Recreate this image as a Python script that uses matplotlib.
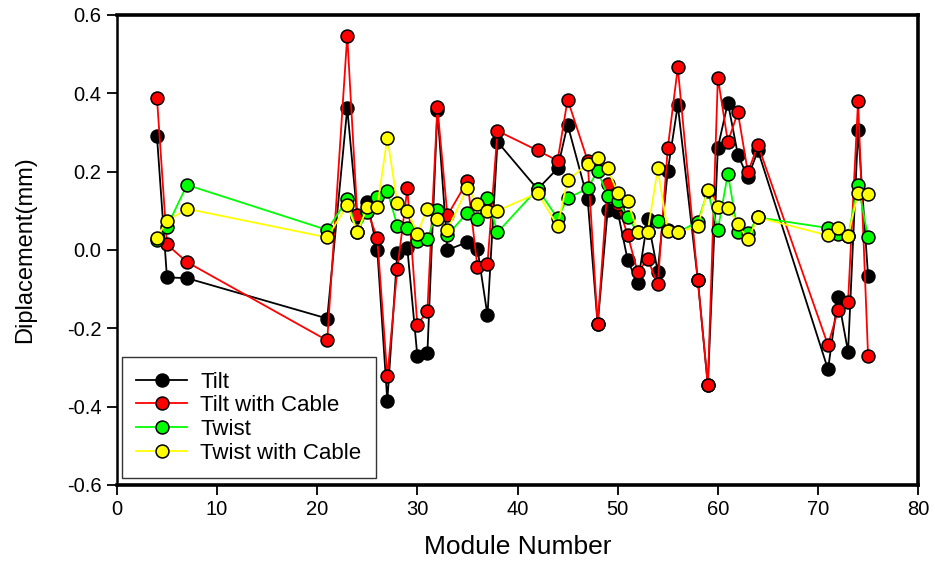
import matplotlib
matplotlib.use("Agg")
import matplotlib.pyplot as plt
from matplotlib.ticker import FormatStrFormatter, MultipleLocator

plt.rcParams["font.family"] = ["Liberation Sans", "DejaVu Sans"]

modules = [4, 5, 7, 21, 23, 24, 25, 26, 27, 28, 29, 30, 31, 32, 33, 35, 36, 37, 38,
           42, 44, 45, 47, 48, 49, 50, 51, 52, 53, 54, 55, 56, 58, 59, 60, 61, 62,
           63, 64, 71, 72, 73, 74, 75]

tilt = [0.291, -0.070, -0.072, -0.175, 0.362, 0.085, 0.123, 0.000, -0.385, -0.007,
        0.004, -0.271, -0.264, 0.358, 0.000, 0.020, 0.003, -0.167, 0.276,
        0.155, 0.208, 0.320, 0.130, -0.190, 0.102, 0.098, -0.026, -0.085, 0.078,
        -0.055, 0.202, 0.370, -0.077, -0.345, 0.261, 0.376, 0.243, 0.185, 0.254,
        -0.305, -0.120, -0.260, 0.306, -0.067]

tilt_cable = [0.389, 0.014, -0.031, -0.231, 0.547, 0.089, 0.100, 0.030, -0.323, -0.049,
              0.157, -0.192, -0.155, 0.364, 0.088, 0.176, -0.044, -0.036, 0.304,
              0.254, 0.228, 0.384, 0.228, -0.190, 0.168, 0.117, 0.038, -0.057, -0.023,
              -0.088, 0.260, 0.466, -0.077, -0.345, 0.440, 0.276, 0.351, 0.198, 0.268,
              -0.243, -0.154, -0.133, 0.381, -0.271]

twist = [0.025, 0.059, 0.166, 0.051, 0.129, 0.045, 0.098, 0.134, 0.151, 0.062,
         0.057, 0.022, 0.027, 0.102, 0.038, 0.095, 0.078, 0.132, 0.045,
         0.156, 0.081, 0.132, 0.157, 0.202, 0.138, 0.125, 0.083, 0.045, 0.045,
         0.074, 0.050, 0.045, 0.072, 0.150, 0.051, 0.195, 0.045, 0.043, 0.083,
         0.056, 0.040, 0.035, 0.165, 0.032]

twist_cable = [0.031, 0.074, 0.105, 0.032, 0.114, 0.046, 0.109, 0.109, 0.287, 0.119,
               0.100, 0.042, 0.105, 0.078, 0.051, 0.159, 0.117, 0.100, 0.100,
               0.145, 0.062, 0.178, 0.219, 0.234, 0.208, 0.145, 0.124, 0.047, 0.047,
               0.208, 0.048, 0.045, 0.061, 0.153, 0.109, 0.108, 0.066, 0.027, 0.083,
               0.037, 0.055, 0.036, 0.146, 0.143]

series = [
    ("Tilt", tilt, "black"),
    ("Tilt with Cable", tilt_cable, "#ff0000"),
    ("Twist", twist, "#00ff00"),
    ("Twist with Cable", twist_cable, "#ffff00"),
]

fig = plt.figure(figsize=(9.35, 5.65), dpi=100)
ax = fig.add_axes([0.125, 0.1416, 0.857, 0.832])

for label, vals, color in series:
    ax.plot(modules, vals, color=color, lw=1.3, marker="o", markersize=9.3,
            markerfacecolor=color, markeredgecolor="black", markeredgewidth=1.1,
            label=label)

ax.set_xlim(0, 80)
ax.set_ylim(-0.6, 0.6)
ax.xaxis.set_major_locator(MultipleLocator(10))
ax.yaxis.set_major_locator(MultipleLocator(0.2))
ax.yaxis.set_major_formatter(FormatStrFormatter("%.1f"))

ax.spines["left"].set_linewidth(1.8)
for side in ("bottom", "top", "right"):
    ax.spines[side].set_linewidth(2.6)

ax.tick_params(direction="out", length=7, width=1.3, labelsize=14.5, pad=4)
ax.set_xlabel("Module Number", fontsize=19, labelpad=11)
ax.set_ylabel("Diplacement(mm)", fontsize=17, labelpad=22)

leg = ax.legend(loc="lower left", fontsize=16, frameon=True, fancybox=False,
                edgecolor="black", handlelength=2.3, handletextpad=0.58,
                borderpad=0.65, labelspacing=0.12, borderaxespad=0,
                bbox_to_anchor=(0.006, 0.015))
leg.get_frame().set_linewidth(1.0)

fig.savefig("out.png", dpi=100)
